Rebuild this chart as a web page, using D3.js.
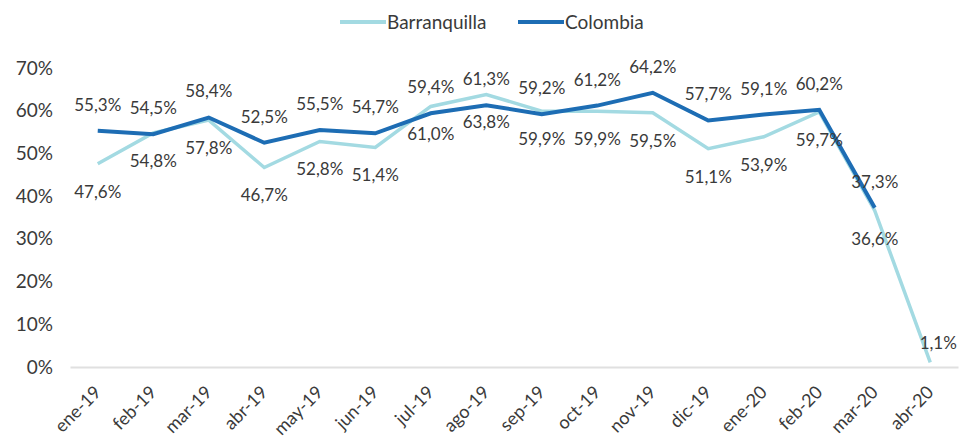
<!doctype html>
<html>
  <head>
    <script src="https://cdnjs.cloudflare.com/ajax/libs/d3/7.8.5/d3.min.js"></script>
  <style>
    body { margin: 0; background: #fff; }
    text { font-family: Lato, "DejaVu Sans", sans-serif; fill: #3a3a3a; }
  </style>
  </head>
  <body>
    <svg id="chart" width="961" height="439"></svg>
    <script>
      var months = ["ene-19","feb-19","mar-19","abr-19","may-19","jun-19","jul-19","ago-19",
                    "sep-19","oct-19","nov-19","dic-19","ene-20","feb-20","mar-20","abr-20"];
      var barranquilla = [47.6,54.8,57.8,46.7,52.8,51.4,61.0,63.8,59.9,59.9,59.5,51.1,53.9,59.7,36.6,1.1];
      var colombia = [55.3,54.5,58.4,52.5,55.5,54.7,59.4,61.3,59.2,61.2,64.2,57.7,59.1,60.2,37.3];
      var yTicks = [0,10,20,30,40,50,60,70];

      var svg = d3.select("#chart");
      var fmt = v => d3.format(".1f")(v).replace(".", ",") + "%";

      var xScale = d3.scaleBand().domain(months).range([70, 958]);
      var yScale = d3.scaleLinear().domain([0, 70]).range([367, 68]);
      var cx = m => xScale(m) + xScale.bandwidth() / 2;

      // y axis labels only
      var yAxis = d3.axisLeft(yScale).tickValues(yTicks).tickSize(0).tickPadding(0)
        .tickFormat(d => d + "%");
      var yg = svg.append("g").attr("transform", "translate(53,0)").call(yAxis);
      yg.select(".domain").remove();
      yg.selectAll("text").style("font-size", "19px").style("fill", "#3a3a3a");

      // x axis baseline + rotated labels
      var xAxis = d3.axisBottom(xScale).tickSize(0).tickPadding(0);
      var xg = svg.append("g").attr("transform", "translate(0,367)").call(xAxis);
      xg.select(".domain").attr("stroke", "#e0e0e0").attr("stroke-width", 2);
      xg.selectAll("text")
        .style("font-size", "18px")
        .style("fill", "#3a3a3a")
        .attr("text-anchor", "end")
        .attr("dy", "0.35em")
        .attr("transform", "translate(0,22) rotate(-45)");

      var line = d3.line().x((d, i) => cx(months[i])).y(d => yScale(d));

      svg.append("path")
        .attr("d", line(barranquilla))
        .attr("fill", "none")
        .attr("stroke", "#a3dae2")
        .attr("stroke-width", 3.5);

      svg.append("path")
        .attr("d", line(colombia))
        .attr("fill", "none")
        .attr("stroke", "#1d6db4")
        .attr("stroke-width", 4);

      // data labels
      svg.selectAll("text.col")
        .data(colombia)
        .enter()
        .append("text")
          .attr("class", "col")
          .attr("x", (d, i) => cx(months[i]))
          .attr("y", d => yScale(d) - 26)
          .attr("dy", "0.35em")
          .attr("text-anchor", "middle")
          .style("font-size", "17px")
          .text(d => fmt(d));

      svg.selectAll("text.baq")
        .data(barranquilla)
        .enter()
        .append("text")
          .attr("class", "baq")
          .attr("x", (d, i) => cx(months[i]) + (i == months.length - 1 ? 8 : 0))
          .attr("y", (d, i) => yScale(d) + (i == months.length - 1 ? -19 : 28))
          .attr("dy", "0.35em")
          .attr("text-anchor", "middle")
          .style("font-size", "17px")
          .text(d => fmt(d));

      // legend
      var legend = [["Barranquilla", "#a3dae2", 340], ["Colombia", "#1d6db4", 518]];
      legend.forEach(function(l) {
        svg.append("line")
          .attr("x1", l[2]).attr("x2", l[2] + 46)
          .attr("y1", 22).attr("y2", 22)
          .attr("stroke", l[1]).attr("stroke-width", 4);
        svg.append("text")
          .attr("x", l[2] + 47).attr("y", 22).attr("dy", "0.35em")
          .style("font-size", "19px")
          .text(l[0]);
      });
    </script>
  </body>
</html>
